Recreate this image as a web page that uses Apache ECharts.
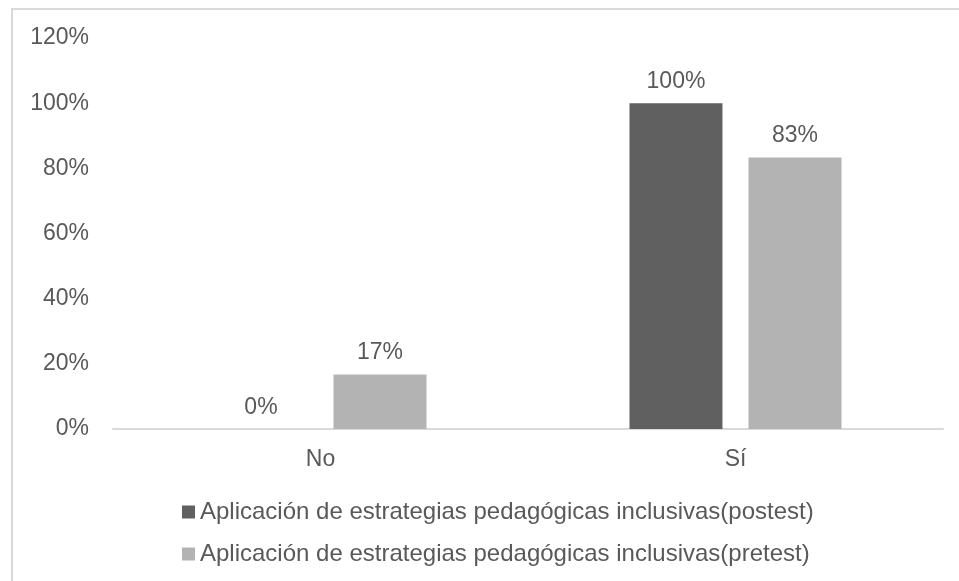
<!DOCTYPE html>
<html>
<head>
<meta charset="utf-8">
<script src="https://cdn.jsdelivr.net/npm/echarts@6/dist/echarts.min.js"></script>
<style>html,body{margin:0;padding:0;background:#fff;}#c{width:959px;height:581px;}</style>
</head>
<body>
<div id="c"></div>
<script>
const categories = ['No', 'Sí'];
const seriesNames = [
  'Aplicación de estrategias pedagógicas inclusivas(postest)',
  'Aplicación de estrategias pedagógicas inclusivas(pretest)'
];
const postest = [0, 100];
const pretest = [16.7, 83.3];
const yTicks = [0, 20, 40, 60, 80, 100, 120];

const font = '"Liberation Sans", Arial, sans-serif';
const txt = '#595959';
const chart = echarts.init(document.getElementById('c'), null, {renderer: 'canvas'});
chart.setOption({
  animation: false,
  backgroundColor: '#fff',
  textStyle: {fontFamily: font},
  graphic: [{
    type: 'rect', silent: true,
    shape: {x: 12, y: 9, width: 960, height: 590},
    style: {fill: 'none', stroke: '#d9d9d9', lineWidth: 2}
  }],
  grid: {left: 113, right: 16, top: 38, bottom: 152, containLabel: false},
  legend: {
    orient: 'vertical', left: 177, top: 495, itemGap: 18,
    itemWidth: 13, itemHeight: 13, icon: 'rect',
    textStyle: {color: txt, fontSize: 24, fontFamily: font, padding: [0, 0, 0, 0]},
    data: seriesNames
  },
  xAxis: {
    type: 'category', data: categories,
    axisLine: {lineStyle: {color: '#d9d9d9', width: 2}},
    axisTick: {show: false},
    axisLabel: {color: txt, fontSize: 23, margin: 19, fontFamily: font}
  },
  yAxis: {
    type: 'value', min: yTicks[0], max: yTicks[yTicks.length - 1], interval: 20,
    axisLine: {show: false}, axisTick: {show: false},
    splitLine: {show: false},
    axisLabel: {color: txt, fontSize: 23, margin: 24, fontFamily: font, padding: [3, 0, 0, 0],
      formatter: v => v + '%'}
  },
  series: [
    {
      name: seriesNames[0], type: 'bar', data: postest,
      barWidth: 93, barGap: '28%',
      itemStyle: {color: '#606060'},
      label: {show: true, position: 'top', distance: 10, color: txt, fontSize: 23, fontFamily: font,
        formatter: p => Math.round(p.value) + '%'}
    },
    {
      name: seriesNames[1], type: 'bar', data: pretest,
      barWidth: 93, barGap: '28%',
      itemStyle: {color: '#b3b3b3'},
      label: {show: true, position: 'top', distance: 10, color: txt, fontSize: 23, fontFamily: font,
        formatter: p => Math.round(p.value) + '%'}
    }
  ]
});
</script>
</body>
</html>
